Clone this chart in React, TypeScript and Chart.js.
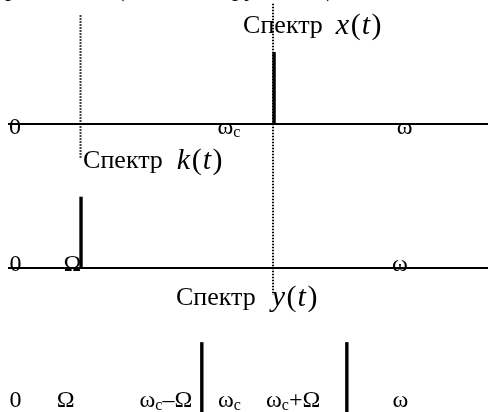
import React, { useEffect, useRef } from "react";
import { Chart, registerables } from "chart.js";

Chart.register(...registerables);

// Frequency axis (arbitrary units) and amplitude axis (panels stacked)
const freqRange = [-0.58, 18.33];
const ampRange = [0, 5.722];
const panelBases = [4, 2, 0];
const axisLineSpan = [-0.27, 18.33];

// Spectrum of x(t): carrier
const xSpikeFreqs = [10.04];
const xSpikeAmps = [1.0];
// Spectrum of k(t): modulating tone
const kSpikeFreqs = [2.56];
const kSpikeAmps = [0.99];
// Spectrum of y(t): side bands
const ySpikeFreqs = [7.24, 12.86];
const ySpikeAmps = [0.97, 0.97];

// Dotted guide lines: freq, from, to
const guideFreqs = [2.54, 10.0];
const guideFrom = [5.51, 5.67];
const guideTo = [3.53, 1.625];

// Axis tick labels per panel
const topLabels = ["0", "ω_c", "ω"];
const topLabelFreqs = [0.0, 8.29, 15.1];
const midLabels = ["0", "Ω", "ω"];
const midLabelFreqs = [0.02, 2.23, 14.92];
const botLabels = ["0", "Ω", "ω_c–Ω", "ω_c", "ω_c+Ω", "ω"];
const botLabelFreqs = [0.02, 1.96, 5.85, 8.31, 10.78, 14.94];
const labelOffsets = [-0.14, -0.04, 0.07];

// Panel titles
const titleWords = ["Спектр", "Спектр", "Спектр"];
const titleFormulaVars = ["x", "k", "y"];
const titleFreqs = [8.84, 2.64, 6.24];
const titleLevels = [5.26, 3.39, 1.49];
const titleGaps = [13, 14, 16];

// Clipped fragments of a text line above the figure
const topFragments = ["р", "(", "ру", ")"];
const topFragmentFreqs = [-0.39, 3.92, 8.41, 12.05];
const topFragmentLevel = 5.78;

const SERIF = '"Liberation Serif", "Times New Roman", serif';

function parseLabel(s: string) {
  const parts: { t: string; sub: boolean }[] = [];
  let i = 0;
  let buf = "";
  while (i < s.length) {
    if (s[i] === "_" && i + 1 < s.length) {
      if (buf) parts.push({ t: buf, sub: false });
      buf = "";
      parts.push({ t: s[i + 1], sub: true });
      i += 2;
    } else {
      buf += s[i];
      i += 1;
    }
  }
  if (buf) parts.push({ t: buf, sub: false });
  return parts;
}

function drawLabel(ctx: CanvasRenderingContext2D, s: string, cx: number, by: number) {
  const parts = parseLabel(s);
  const mainFont = `24px ${SERIF}`;
  const subFont = `16px ${SERIF}`;
  let total = 0;
  const widths = parts.map((p) => {
    ctx.font = p.sub ? subFont : mainFont;
    const w = ctx.measureText(p.t).width;
    total += w;
    return w;
  });
  let x = cx - total / 2;
  parts.forEach((p, i) => {
    ctx.font = p.sub ? subFont : mainFont;
    ctx.fillText(p.t, x, p.sub ? by + 3 : by);
    x += widths[i];
  });
}

function drawTitle(ctx: CanvasRenderingContext2D, word: string, v: string, x: number, by: number, gap: number) {
  ctx.font = `26px ${SERIF}`;
  ctx.fillText(word, x, by);
  let cx = x + ctx.measureText(word).width + gap;
  const pieces = [
    { t: v, it: true },
    { t: "(", it: false },
    { t: "t", it: true },
    { t: ")", it: false },
  ];
  pieces.forEach((p) => {
    ctx.font = `${p.it ? "italic " : ""}30px ${SERIF}`;
    ctx.fillText(p.t, cx, by + 1);
    cx += ctx.measureText(p.t).width + (p.it ? 1.5 : 1);
  });
}

const textPlugin = {
  id: "spectrumText",
  afterDatasetsDraw(chart: any) {
    const ctx: CanvasRenderingContext2D = chart.ctx;
    const xs = chart.scales.x;
    const ys = chart.scales.y;
    ctx.save();
    ctx.fillStyle = "#000";
    ctx.textBaseline = "alphabetic";
    ctx.textAlign = "left";
    const groups = [
      [topLabels, topLabelFreqs],
      [midLabels, midLabelFreqs],
      [botLabels, botLabelFreqs],
    ] as [string[], number[]][];
    groups.forEach(([labels, freqs], gi) => {
      labels.forEach((l, i) => {
        drawLabel(ctx, l, xs.getPixelForValue(freqs[i]), ys.getPixelForValue(panelBases[gi] + labelOffsets[gi]));
      });
    });
    titleWords.forEach((w, i) => {
      drawTitle(ctx, w, titleFormulaVars[i], xs.getPixelForValue(titleFreqs[i]), ys.getPixelForValue(titleLevels[i]), titleGaps[i]);
    });
    ctx.font = `25px ${SERIF}`;
    topFragments.forEach((f, i) => {
      ctx.fillText(f, xs.getPixelForValue(topFragmentFreqs[i]), ys.getPixelForValue(topFragmentLevel));
    });
    ctx.restore();
  },
};

function spikeDatasets(freqs: number[], amps: number[], base: number) {
  return freqs.map((f, i) => ({
    data: [
      { x: f, y: base },
      { x: f, y: base + amps[i] },
    ],
    borderColor: "#000",
    borderWidth: 3.4,
    showLine: true,
    pointRadius: 0,
    borderCapStyle: "butt",
  }));
}

export default function App() {
  const ref = useRef<HTMLCanvasElement | null>(null);
  useEffect(() => {
    if (!ref.current) return;
    const datasets: any[] = [];
    // axis lines for first two panels (third is cropped below the view)
    [panelBases[0], panelBases[1]].forEach((b) => {
      datasets.push({
        data: [
          { x: axisLineSpan[0], y: b },
          { x: axisLineSpan[1], y: b },
        ],
        borderColor: "#000",
        borderWidth: 2,
        showLine: true,
        pointRadius: 0,
      });
    });
    guideFreqs.forEach((f, i) => {
      datasets.push({
        data: [
          { x: f, y: guideFrom[i] },
          { x: f, y: guideTo[i] },
        ],
        borderColor: "#000",
        borderWidth: 2,
        borderDash: [1.5, 1.5],
        showLine: true,
        pointRadius: 0,
      });
    });
    datasets.push(...spikeDatasets(xSpikeFreqs, xSpikeAmps, panelBases[0]));
    datasets.push(...spikeDatasets(kSpikeFreqs, kSpikeAmps, panelBases[1]));
    datasets.push(...spikeDatasets(ySpikeFreqs, ySpikeAmps, panelBases[2]));

    const chart = new Chart(ref.current, {
      type: "scatter",
      data: { datasets },
      options: {
        animation: false,
        responsive: false,
        maintainAspectRatio: false,
        layout: { padding: 0 },
        plugins: { legend: { display: false }, tooltip: { enabled: false } },
        scales: {
          x: { type: "linear", min: freqRange[0], max: freqRange[1], display: false },
          y: { type: "linear", min: ampRange[0], max: ampRange[1], display: false },
        },
      },
      plugins: [textPlugin],
    } as any);
    return () => chart.destroy();
  }, []);
  return (
    <div style={{ position: "absolute", left: 0, top: 0, width: 488, height: 412, background: "#fff" }}>
      <canvas ref={ref} width={488} height={412} style={{ display: "block" }} />
    </div>
  );
}
